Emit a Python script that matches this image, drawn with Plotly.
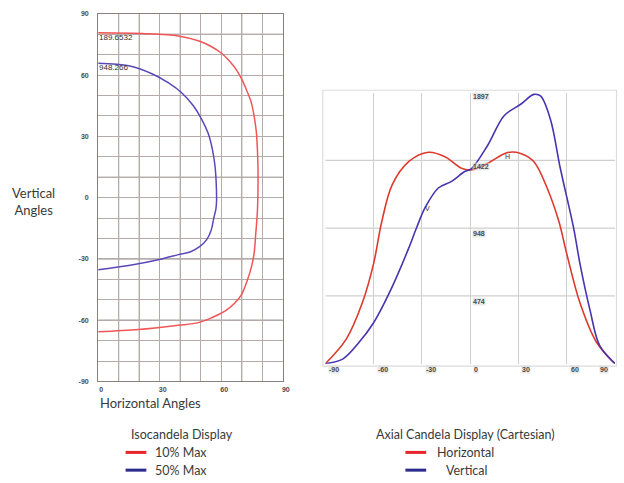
import plotly.graph_objects as go

# ---- Isocandela display (horizontal angle vs vertical angle) ----
iso10_h = [0, 23.0, 39.1, 48.8, 55.3, 60.1, 64.2, 67.4, 70.1, 72.2, 74.4, 76.0, 77.1, 77.6, 77.9, 77.9,
           77.6, 76.8, 76.0, 74.7, 73.0, 69.8, 66.6, 61.8, 55.3, 48.8, 39.1, 19.7, 0]
iso10_v = [80.7, 80.3, 79.2, 76.8, 73.9, 70.7, 66.7, 62.6, 57.8, 53.0, 47.4, 40.1, 32.1, 24.0, 14.4, 4.0,
           -7.0, -17.9, -27.5, -33.9, -39.6, -47.6, -51.6, -55.6, -58.8, -61.2, -62.5, -64.6, -65.7]
iso50_h = [0, 14.9, 26.2, 34.3, 40.7, 46.4, 50.4, 53.7, 55.6, 56.9, 57.5, 57.7, 57.4, 56.4, 55.0, 52.8,
           49.6, 44.8, 39.1, 31.0, 14.9, 0]
iso50_v = [65.8, 64.6, 60.7, 56.2, 51.4, 45.0, 38.5, 31.3, 24.0, 16.0, 8.0, -1.8, -5.5, -9.8, -16.2, -20.7,
           -23.9, -26.6, -27.9, -30.0, -33.2, -35.3]
iso_labels = ["189.6532", "948.266"]
iso_ticks = [-90, -60, -30, 0, 30, 60, 90]
iso_xticks = [0, 30, 60, 90]

# ---- Axial candela display (cartesian) ----
axial_h_ang = [-90, -77, -67, -60, -55, -48.4, -38.2, -26, -15.7, -5.4, 0.7, 10.9, 23.2, 31.4, 39.6, 47.8, 55, 60, 68.2, 78.5, 90]
axial_h_cd = [0, 172, 426, 701, 990, 1253, 1414, 1480, 1449, 1368, 1357, 1403, 1478, 1472, 1414, 1230, 1000, 770, 426, 150, 0]
axial_v_ang = [-90, -79, -69, -60, -48.4, -38.5, -33, -28, -19.8, -11.6, -3.4, 0.7, 10.9, 21.1, 31.4, 39.6, 43.7, 49.8, 56, 64.2, 68.2, 74.4, 80.5, 90]
axial_v_cd = [0, 34, 150, 287, 540, 800, 960, 1092, 1230, 1276, 1345, 1364, 1529, 1736, 1816, 1885, 1874, 1713, 1368, 954, 701, 379, 126, 0]
axial_xticks = [-90, -60, -30, 0, 30, 60, 90]
axial_yticks = [474, 948, 1422, 1897]
axial_ygrid = [474.25, 948.5, 1422.75]
axial_marks = [("H", 23, 1449), ("V", -26.7, 1083)]

legend_iso = ["10% Max", "50% Max"]
legend_axial = ["Horizontal", "Vertical"]

W, H = 624, 483
TXT = "#3a3a3a"
TICKFONT = dict(family="Liberation Sans, Arial", size=7, color="#4a4a4a")


def px(x):
    return x / W


def py(y):
    return 1 - y / H


fig = go.Figure()

# isocandela curves
fig.add_trace(go.Scatter(x=iso10_h, y=iso10_v, mode="lines", line=dict(color="#f25555", width=1.5, shape="spline", smoothing=0.9),
                         xaxis="x", yaxis="y", showlegend=False, hoverinfo="skip"))
fig.add_trace(go.Scatter(x=iso50_h, y=iso50_v, mode="lines", line=dict(color="#5a48b8", width=1.5, shape="spline", smoothing=0.9),
                         xaxis="x", yaxis="y", showlegend=False, hoverinfo="skip"))

# axial curves
fig.add_trace(go.Scatter(x=axial_h_ang, y=axial_h_cd, mode="lines", line=dict(color="#dd3a2c", width=1.6, shape="spline", smoothing=1.0),
                         xaxis="x2", yaxis="y2", showlegend=False, hoverinfo="skip"))
fig.add_trace(go.Scatter(x=axial_v_ang, y=axial_v_cd, mode="lines", line=dict(color="#4634b0", width=1.6, shape="spline", smoothing=1.0),
                         xaxis="x2", yaxis="y2", showlegend=False, hoverinfo="skip"))

shapes = []
# darker reference lines in the isocandela grid
for v in [80, 10, -30, -60]:
    shapes.append(dict(type="line", xref="x", yref="y", x0=0, x1=90, y0=v, y1=v,
                       line=dict(color="#7a6e6e", width=1), layer="below"))
for h in [10, 20, 40, 70]:
    shapes.append(dict(type="line", xref="x", yref="y", x0=h, x1=h, y0=-90, y1=90,
                       line=dict(color="#8f8585", width=1), layer="below"))
# axial frame
shapes.append(dict(type="rect", xref="paper", yref="paper", x0=px(326.5), x1=px(623.5), y0=py(367.5), y1=py(87.5),
                   line=dict(color="#dcdcdc", width=1.2), layer="below"))
for v in axial_ygrid:
    shapes.append(dict(type="line", xref="x2", yref="y2", x0=-90, x1=90, y0=v, y1=v,
                       line=dict(color="#cfcfcf", width=1.2), layer="below"))

# legend keys
for i, c in enumerate(["#e8252a", "#2b2b8c"]):
    yy = py(455 + 18 * i)
    shapes.append(dict(type="line", xref="paper", yref="paper", x0=px(127), x1=px(148), y0=yy, y1=yy,
                       line=dict(color=c, width=3)))
    shapes.append(dict(type="line", xref="paper", yref="paper", x0=px(410), x1=px(431), y0=yy, y1=yy,
                       line=dict(color=c, width=3)))

ann = []
# contour value tags
for lab, yv in zip(iso_labels, [iso10_v[0], iso50_v[0]]):
    ann.append(dict(x=0, y=yv, xref="x", yref="y", text=lab, showarrow=False, xanchor="left", yanchor="top",
                    yshift=2, xshift=-1, font=dict(family="Liberation Sans, Arial", size=8, color="#2e2e2e")))

# axial tick labels (drawn inside / at the grid lines)
for t in axial_yticks:
    ann.append(dict(x=0, y=t, xref="x2", yref="y2", text=f"<b>{t}</b>", showarrow=False, xanchor="left", yanchor="top",
                    xshift=2, yshift=(1 if t == axial_yticks[-1] else -1), bgcolor="rgba(215,215,215,0.55)",
                    borderpad=0, font=TICKFONT))
for t in axial_xticks:
    anchor = "right" if t == axial_xticks[-1] else "left"
    ann.append(dict(x=t, y=0, xref="x2", yref="y2", text=f"<b>{t}</b>", showarrow=False, xanchor=anchor, yanchor="top",
                    xshift=(-6 if t == axial_xticks[-1] else 3), yshift=-1, bgcolor="rgba(215,215,215,0.55)", borderpad=0,
                    font=TICKFONT))
for lab, xv, yv in axial_marks:
    ann.append(dict(x=xv, y=yv, xref="x2", yref="y2", text=lab, showarrow=False,
                    xanchor="center", yanchor="middle",
                    font=dict(family="Liberation Sans, Arial", size=7, color="#333333")))

MAIN = dict(family="Lato, Noto Sans, sans-serif", size=13, color=TXT)
ann.append(dict(x=px(34), y=py(200), xref="paper", yref="paper", text="Vertical<br>Angles", showarrow=False,
                xanchor="center", yanchor="middle", align="center", font=MAIN))
ann.append(dict(x=px(99), y=py(405), xref="paper", yref="paper", text="Horizontal Angles", showarrow=False,
                xanchor="left", yanchor="middle", font=MAIN))

LEG = dict(family="Lato, Noto Sans, sans-serif", size=12.5, color=TXT)
ann.append(dict(x=px(184), y=py(437), xref="paper", yref="paper", text="Isocandela Display", showarrow=False,
                xanchor="center", yanchor="middle", font=LEG))
ann.append(dict(x=px(471), y=py(437), xref="paper", yref="paper", text="Axial Candela Display (Cartesian)",
                showarrow=False, xanchor="center", yanchor="middle", font=LEG))
for i, lab in enumerate(legend_iso):
    ann.append(dict(x=px(155), y=py(455 + 18 * i), xref="paper", yref="paper", text=lab, showarrow=False,
                    xanchor="left", yanchor="middle", font=LEG))
for i, lab in enumerate(legend_axial):
    ann.append(dict(x=px(440 + 9 * i), y=py(455 + 18 * i), xref="paper", yref="paper", text=lab, showarrow=False,
                    xanchor="left", yanchor="middle", font=LEG))

fig.update_layout(
    width=W, height=H, autosize=False,
    margin=dict(l=0, r=0, t=0, b=0),
    paper_bgcolor="white", plot_bgcolor="white",
    shapes=shapes, annotations=ann,
    xaxis=dict(domain=[px(99.3), px(286)], anchor="y", range=[0, 90], tickvals=iso_xticks,
               ticktext=[f"<b>{t}</b>" for t in iso_xticks], tickfont=TICKFONT, ticks="", ticklabelshift=3,
               ticklabelstandoff=1, showgrid=True, gridcolor="#b4abab", gridwidth=1,
               minor=dict(showgrid=True, dtick=10, gridcolor="#b4abab", gridwidth=1),
               showline=True, linecolor="#8a7f7f", linewidth=1.2, mirror=True, zeroline=False, fixedrange=True),
    yaxis=dict(domain=[py(383), py(10)], anchor="x", range=[-90, 90], tickvals=iso_ticks,
               ticktext=[f"<b>{t}</b>" for t in iso_ticks], tickfont=TICKFONT, ticks="", ticklabelstandoff=7,
               showgrid=True, gridcolor="#b4abab", gridwidth=1,
               minor=dict(showgrid=True, dtick=10, gridcolor="#b4abab", gridwidth=1),
               showline=True, linecolor="#8a7f7f", linewidth=1.2, mirror=True, zeroline=False, fixedrange=True),
    xaxis2=dict(domain=[px(329), px(622)], anchor="y2", range=[-90, 90], tickvals=axial_xticks, showticklabels=False,
                ticks="", showgrid=True, gridcolor="#cfcfcf", gridwidth=1.2, showline=False, zeroline=False,
                fixedrange=True),
    yaxis2=dict(domain=[py(365), py(90)], anchor="x2", range=[0, 1897], showticklabels=False, ticks="",
                showgrid=False, showline=False, zeroline=False, fixedrange=True),
)

fig.write_html("out.html")
